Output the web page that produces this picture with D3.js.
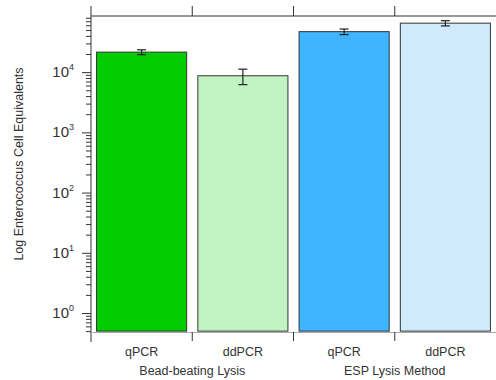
<!DOCTYPE html>
<html>
<head>
<meta charset="utf-8">
<script src="https://cdn.jsdelivr.net/npm/d3@7"></script>
<style>
  body { margin: 0; background: #fff; }
  svg { display: block; font-family: "Liberation Sans", Arial, sans-serif; }
</style>
</head>
<body>
<div id="chart"></div>
<script>
// data
const categories = ["qPCR", "ddPCR", "qPCR ", "ddPCR "];
const groups = ["Bead-beating Lysis", "ESP Lysis Method"];
const values = [21500, 8700, 47000, 65000];
const errors = [2000, 2500, 5000, 6500];
const colors = ["#00cc00", "#c2f3c2", "#40b5ff", "#d0eafb"];
const decades = [0, 1, 2, 3, 4];

const width = 496, height = 380;
const margins = { top: 16, right: 0, bottom: 48, left: 91 };

const svg = d3.select("#chart").append("svg")
  .attr("width", width)
  .attr("height", height);

const x_scale = d3.scaleBand()
  .domain(categories)
  .range([margins.left, width - margins.right])
  .paddingInner(0.11)
  .paddingOuter(0.055);

const y_scale = d3.scaleLog()
  .domain([0.484, 85500])
  .range([height - margins.bottom, margins.top]);

// all log ticks (major + minor) inside the domain
const tick_vals = [];
for (let e = -1; e <= 4; e++) {
  for (let m = 1; m <= 9; m++) {
    const v = m * Math.pow(10, e);
    if (v >= 0.5 && v <= 85000) tick_vals.push(v);
  }
}
const is_major = v => Math.abs(Math.log10(v) - Math.round(Math.log10(v))) < 1e-9;

// bars
svg.append("g").selectAll("rect")
  .data(values)
  .join("rect")
  .attr("x", (d, i) => x_scale(categories[i]))
  .attr("y", d => y_scale(d))
  .attr("width", x_scale.bandwidth())
  .attr("height", d => y_scale(0.5) - y_scale(d))
  .attr("fill", (d, i) => colors[i])
  .attr("stroke", "#333")
  .attr("stroke-width", 1);

// error bars
const err = svg.append("g").attr("stroke", "#222").attr("stroke-width", 1.2);
values.forEach((v, i) => {
  const cx = x_scale(categories[i]) + x_scale.bandwidth() / 2;
  const y1 = y_scale(v + errors[i]), y0 = y_scale(v - errors[i]);
  err.append("line").attr("x1", cx).attr("x2", cx).attr("y1", y1).attr("y2", y0);
  err.append("line").attr("x1", cx - 4.5).attr("x2", cx + 4.5).attr("y1", y1).attr("y2", y1);
  err.append("line").attr("x1", cx - 4.5).attr("x2", cx + 4.5).attr("y1", y0).attr("y2", y0);
});

// y axis
const y_axis = svg.append("g")
  .attr("transform", "translate(" + margins.left + ",0)")
  .call(d3.axisLeft(y_scale).tickValues(tick_vals).tickFormat("").tickSizeOuter(0));
y_axis.selectAll(".tick line")
  .attr("x2", d => is_major(d) ? -9 : -5)
  .attr("stroke", "#333");
y_axis.select(".domain").attr("stroke", "#333")
  .attr("d", "M0," + (margins.top - 10) + "V" + (height - margins.bottom + 10));

// y tick labels 10^n
const lab = svg.append("g").attr("fill", "#333");
decades.forEach(e => {
  const t = lab.append("text")
    .attr("x", 74)
    .attr("y", y_scale(Math.pow(10, e)) + 5)
    .attr("text-anchor", "end")
    .attr("font-size", 15);
  t.append("tspan").text("10");
  t.append("tspan").attr("dy", -7).attr("font-size", 9).text(e);
});

// bottom axis: band boundary ticks
const boundaries = categories.map(c => x_scale(c) - x_scale.step() * x_scale.paddingInner() / 2);
boundaries[0] = margins.left;
boundaries.push(width - margins.right);
const base_y = height - margins.bottom;
svg.append("line")
  .attr("x1", margins.left).attr("x2", width)
  .attr("y1", base_y + 0.5).attr("y2", base_y + 0.5)
  .attr("stroke", "#aaa");
svg.append("g").selectAll("line")
  .data(boundaries.slice(1, 4))
  .join("line")
  .attr("x1", d => d).attr("x2", d => d)
  .attr("y1", base_y).attr("y2", base_y + 9)
  .attr("stroke", "#333");

// top axis
svg.append("line")
  .attr("x1", margins.left).attr("x2", width)
  .attr("y1", margins.top).attr("y2", margins.top)
  .attr("stroke", "#333");
svg.append("g").selectAll("line")
  .data(boundaries.slice(1, 4))
  .join("line")
  .attr("x1", d => d).attr("x2", d => d)
  .attr("y1", margins.top).attr("y2", margins.top - 10)
  .attr("stroke", "#333");

// category labels
svg.append("g").selectAll("text")
  .data(categories)
  .join("text")
  .attr("x", d => x_scale(d) + x_scale.bandwidth() / 2)
  .attr("y", 356)
  .attr("text-anchor", "middle")
  .attr("font-size", 12.5)
  .attr("fill", "#333")
  .text(d => d.trim());

// group labels
svg.append("g").selectAll("text")
  .data(groups)
  .join("text")
  .attr("x", (d, i) => boundaries[i * 2 + 1])
  .attr("y", 375)
  .attr("text-anchor", "middle")
  .attr("font-size", 12.5)
  .attr("fill", "#333")
  .text(d => d);

// y title
svg.append("text")
  .attr("transform", "translate(23," + 164 + ") rotate(-90)")
  .attr("text-anchor", "middle")
  .attr("font-size", 12.5)
  .attr("fill", "#333")
  .text("Log Enterococcus Cell Equivalents");
</script>
</body>
</html>
